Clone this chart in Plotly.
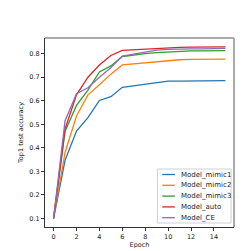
import plotly.graph_objects as go

epochs = list(range(16))
mimic1 = [0.1, 0.347, 0.471, 0.528, 0.601, 0.617, 0.657, 0.663, 0.670, 0.675, 0.683, 0.683, 0.683, 0.684, 0.685, 0.685]
mimic2 = [0.1, 0.38, 0.535, 0.625, 0.668, 0.713, 0.752, 0.757, 0.762, 0.767, 0.771, 0.774, 0.776, 0.776, 0.777, 0.777]
mimic3 = [0.1, 0.47, 0.58, 0.645, 0.722, 0.748, 0.788, 0.795, 0.800, 0.804, 0.807, 0.809, 0.812, 0.812, 0.813, 0.813]
auto = [0.1, 0.48, 0.625, 0.70, 0.752, 0.792, 0.814, 0.817, 0.819, 0.822, 0.826, 0.827, 0.828, 0.828, 0.829, 0.829]
ce = [0.1, 0.515, 0.63, 0.655, 0.70, 0.74, 0.79, 0.798, 0.805, 0.815, 0.818, 0.82, 0.82, 0.82, 0.822, 0.822]

names = ["Model_mimic1", "Model_mimic2", "Model_mimic3", "Model_auto", "Model_CE"]
series = [mimic1, mimic2, mimic3, auto, ce]
colors = ["#1f77b4", "#ff7f0e", "#2ca02c", "#d62728", "#9467bd"]

FS = 6.5
fig = go.Figure()
for n, s, c in zip(names, series, colors):
    fig.add_trace(go.Scatter(x=epochs, y=s, mode="lines", name=n,
                             line=dict(color=c, width=1.3), showlegend=False))

axis_common = dict(showgrid=False, zeroline=False, showline=True, linecolor="#333333",
                   linewidth=1, ticks="outside", ticklen=3, tickcolor="#333333",
                   tickfont=dict(size=FS, color="#222222"))
fig.update_layout(
    width=251, height=251,
    margin=dict(l=31, r=25, t=30, b=32),
    paper_bgcolor="white", plot_bgcolor="white",
    font=dict(family="DejaVu Sans", size=FS, color="#222222"),
    xaxis=dict(range=[-0.75, 15.75], tickvals=[0, 2, 4, 6, 8, 10, 12, 14],
               title=dict(text="Epoch", font=dict(size=FS), standoff=0), **axis_common),
    yaxis=dict(range=[0.0635, 0.8665], tickvals=[0.1, 0.2, 0.3, 0.4, 0.5, 0.6, 0.7, 0.8],
               tickformat=".1f",
               title=dict(text="Top1 test accuracy", font=dict(size=FS), standoff=5), **axis_common),
    showlegend=False,
)
fig.add_shape(type="line", xref="paper", yref="paper", x0=0, x1=1, y0=1, y1=1,
              line=dict(color="#aaaaaa", width=2))
fig.add_shape(type="line", xref="paper", yref="paper", x0=1, x1=1, y0=0, y1=1,
              line=dict(color="#aaaaaa", width=2))

# custom compact legend (matplotlib style)
px_l, px_t, pw, ph = 31, 30, 195, 189
def fx(p):
    return (p - px_l) / pw
def fy(p):
    return (px_t + ph - p) / ph

fig.add_shape(type="rect", xref="paper", yref="paper",
              x0=fx(147), x1=fx(223), y0=fy(215), y1=fy(161),
              line=dict(color="#d0d0d0", width=1), fillcolor="rgba(255,255,255,0.85)")
rows = [166.5, 177.3, 188.1, 198.9, 209.7]
for n, c, r in zip(names, colors, rows):
    fig.add_shape(type="line", xref="paper", yref="paper",
                  x0=fx(152), x1=fx(165), y0=fy(r), y1=fy(r),
                  line=dict(color=c, width=1.3))
    fig.add_annotation(xref="paper", yref="paper", x=fx(169), y=fy(r), text=n,
                       showarrow=False, xanchor="left", yanchor="middle",
                       font=dict(size=7, color="#222222"))
fig.write_html("out.html")
